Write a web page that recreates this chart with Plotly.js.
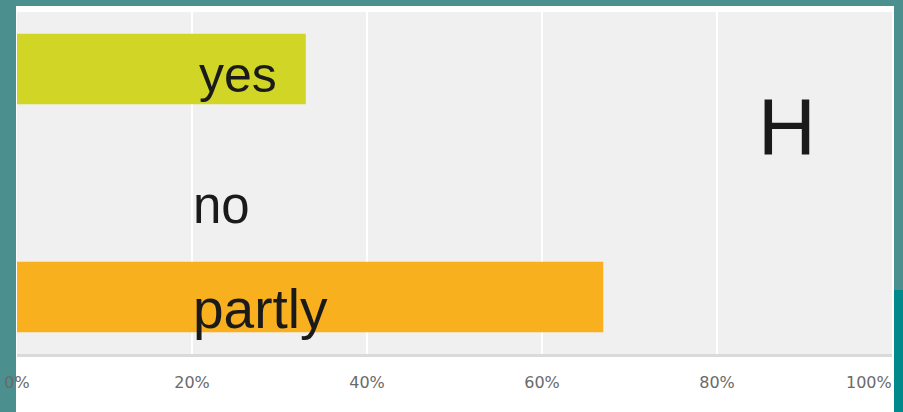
<!DOCTYPE html>
<html>
<head>
<meta charset="utf-8">
<script src="https://cdn.plot.ly/plotly-3.0.1.min.js"></script>
<style>
html,body{margin:0;padding:0;width:903px;height:412px;overflow:hidden;background:#4b8f8f;}
#panel{position:absolute;left:16px;top:6px;width:878px;height:406px;background:#ffffff;}
#corner{position:absolute;left:894px;top:290px;width:9px;height:122px;background:#00898a;}
#chart{position:absolute;left:0;top:0;width:903px;height:412px;}
</style>
</head>
<body>
<div id="panel"></div>
<div id="corner"></div>
<div id="chart"></div>
<script>
var categories = ["yes", "no", "partly"];
var values = [33, 0, 67];
var barColors = ["#d0d526", "#f0f0f0", "#f9b01f"];
var tickValues = [0, 20, 40, 60, 80, 100];
var tickLabels = ["0%", "20%", "40%", "60%", "80%", "100%"];
var bigLabel = "H";

var trace = {
  type: "bar",
  orientation: "h",
  y: categories,
  x: values,
  marker: {color: barColors},
  hoverinfo: "none",
  showlegend: false
};

var labelSizes = [50, 51, 55];
var annotations = categories.map(function (c, i) {
  return {
    xref: "x", yref: "y",
    x: i === 0 ? 20.6 : 19.9, y: c,
    xanchor: "left", yanchor: "middle",
    yshift: i === 0 ? -6 : (i === 1 ? -22 : -12),
    text: c, showarrow: false,
    font: {family: "Liberation Sans, Arial, sans-serif", size: labelSizes[i], color: "#1a1a1a"}
  };
});
annotations.push({
  xref: "paper", yref: "paper",
  x: (787 - 17) / 875, y: (354 - 126) / 342,
  xanchor: "center", yanchor: "middle",
  text: bigLabel, showarrow: false,
  font: {family: "Liberation Sans, Arial, sans-serif", size: 80, color: "#1a1a1a"}
});
// last tick label shifted inside the plot's right edge, as in the original
annotations.push({
  xref: "x", yref: "paper",
  x: tickValues[tickValues.length - 1], y: 0,
  xanchor: "right", yanchor: "middle", xshift: 2, yshift: -28,
  text: tickLabels[tickLabels.length - 1], showarrow: false,
  font: {family: "DejaVu Sans, sans-serif", size: 16, color: "#6a6a6a"}
});

var layout = {
  width: 903, height: 412,
  margin: {l: 17, r: 11, t: 12, b: 58, pad: 0},
  paper_bgcolor: "rgba(0,0,0,0)",
  plot_bgcolor: "#f0f0f0",
  bargap: 0.38,
  xaxis: {
    range: [0, 100],
    tickvals: tickValues.slice(0, -1),
    ticktext: tickLabels.slice(0, -1),
    showgrid: true, gridcolor: "#ffffff", gridwidth: 2,
    zeroline: false,
    showline: true, linecolor: "#dadada", linewidth: 3,
    ticks: "", ticklen: 0,
    ticklabelstandoff: 12,
    tickfont: {family: "DejaVu Sans, sans-serif", size: 16, color: "#6a6a6a"},
    automargin: false,
    fixedrange: true
  },
  yaxis: {
    autorange: "reversed",
    range: [2.5, -0.5],
    showticklabels: false,
    showgrid: false, zeroline: false, showline: false,
    fixedrange: true
  },
  annotations: annotations,
  showlegend: false
};

Plotly.newPlot("chart", [trace], layout, {displayModeBar: false, staticPlot: true});
</script>
</body>
</html>
